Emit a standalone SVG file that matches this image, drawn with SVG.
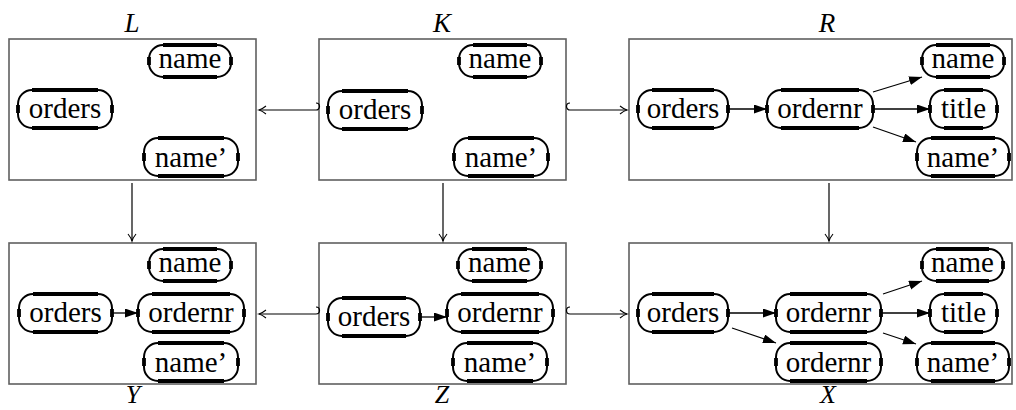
<svg xmlns="http://www.w3.org/2000/svg" width="1016" height="410" viewBox="0 0 1016 410">
  <style>
    .frame { fill: #ffffff; stroke: #606060; stroke-width: 1.6; }
    .pill rect { fill: #ffffff; stroke: #000000; stroke-width: 2; }
    .pill path { fill: none; stroke: #000000; stroke-width: 3.8; }
    .pill text { font-family: "Liberation Serif", "Times New Roman", serif; font-size: 29px; text-anchor: middle; fill: #000000; }
    .title { font-family: "Liberation Serif", "Times New Roman", serif; font-size: 27px; font-style: italic; text-anchor: middle; fill: #000000; }
    .title.low { font-size: 26px; }
    .edge { fill: none; stroke: #000000; stroke-width: 1.3; marker-end: url(#solid); }
    .morph { fill: none; stroke: #000000; stroke-width: 1.2; marker-end: url(#open); }
  </style>
  <defs>
    <marker id="solid" markerUnits="userSpaceOnUse" markerWidth="14" markerHeight="10" refX="13" refY="4.5" orient="auto">
      <path d="M0,0 L13,4.5 L0,9 z" fill="#000000"/>
    </marker>
    <marker id="open" markerUnits="userSpaceOnUse" markerWidth="12" markerHeight="12" refX="8" refY="6" orient="auto" overflow="visible">
      <path d="M1,2 Q5,5.2 8,6 Q5,6.8 1,10" fill="none" stroke="#000000" stroke-width="1.1"/>
    </marker>
  </defs>

  <!-- graph frames with their labels -->
  <g id="L">
    <rect class="frame" x="9" y="39" width="247" height="141"/>
    <text class="title" x="132" y="32">L</text>
    <g id="L-name" class="pill"><rect x="149" y="45" width="82" height="32" rx="14"/><path d="M163 45H217M163 77H217M149 57v8M231 57v8"/><text x="190" y="68">name</text></g>
    <g id="L-orders" class="pill"><rect x="18" y="90" width="94" height="38" rx="14"/><path d="M32 90H98M32 128H98M18 105v8M112 105v8"/><text x="65" y="118">orders</text></g>
    <g id="L-name2" class="pill"><rect x="144" y="138" width="94" height="38" rx="14"/><path d="M158 138H224M158 176H224M144 153v8M238 153v8"/><text x="191" y="167">name’</text></g>
  </g>

  <g id="K">
    <rect class="frame" x="319" y="39" width="247" height="141"/>
    <text class="title" x="442" y="32">K</text>
    <g id="K-name" class="pill"><rect x="459" y="45" width="82" height="32" rx="14"/><path d="M473 45H527M473 77H527M459 57v8M541 57v8"/><text x="500" y="68">name</text></g>
    <g id="K-orders" class="pill"><rect x="328" y="91" width="94" height="38" rx="14"/><path d="M342 91H408M342 129H408M328 106v8M422 106v8"/><text x="375" y="119">orders</text></g>
    <g id="K-name2" class="pill"><rect x="454" y="138" width="94" height="38" rx="14"/><path d="M468 138H534M468 176H534M454 153v8M548 153v8"/><text x="501" y="167">name’</text></g>
  </g>

  <g id="R">
    <rect class="frame" x="629" y="39" width="383" height="141"/>
    <text class="title" x="827" y="32">R</text>
    <g id="R-orders" class="pill"><rect x="638" y="90" width="90" height="38" rx="14"/><path d="M652 90H714M652 128H714M638 105v8M728 105v8"/><text x="683" y="118">orders</text></g>
    <g id="R-ordernr" class="pill"><rect x="767" y="90" width="106" height="38" rx="14"/><path d="M781 90H859M781 128H859M767 105v8M873 105v8"/><text x="820" y="118">ordernr</text></g>
    <g id="R-name" class="pill"><rect x="922" y="45" width="82" height="32" rx="14"/><path d="M936 45H990M936 77H990M922 57v8M1004 57v8"/><text x="963" y="68">name</text></g>
    <g id="R-title" class="pill"><rect x="930" y="90" width="67" height="38" rx="14"/><path d="M944 90H983M944 128H983M930 105v8M997 105v8"/><text x="963.5" y="118">title</text></g>
    <g id="R-name2" class="pill"><rect x="917" y="138" width="92" height="38" rx="14"/><path d="M931 138H995M931 176H995M917 153v8M1009 153v8"/><text x="963" y="167">name’</text></g>
  </g>

  <g id="Y">
    <rect class="frame" x="9" y="243" width="247" height="141"/>
    <text class="title low" x="133" y="403">Y</text>
    <g id="Y-name" class="pill"><rect x="149" y="249" width="82" height="32" rx="14"/><path d="M163 249H217M163 281H217M149 261v8M231 261v8"/><text x="190" y="272">name</text></g>
    <g id="Y-orders" class="pill"><rect x="19" y="294" width="93" height="38" rx="14"/><path d="M33 294H98M33 332H98M19 309v8M112 309v8"/><text x="65.5" y="322">orders</text></g>
    <g id="Y-ordernr" class="pill"><rect x="138" y="294" width="106" height="38" rx="14"/><path d="M152 294H230M152 332H230M138 309v8M244 309v8"/><text x="191" y="322">ordernr</text></g>
    <g id="Y-name2" class="pill"><rect x="144" y="343" width="94" height="38" rx="14"/><path d="M158 343H224M158 381H224M144 358v8M238 358v8"/><text x="191" y="372">name’</text></g>
  </g>

  <g id="Z">
    <rect class="frame" x="319" y="243" width="247" height="141"/>
    <text class="title low" x="442" y="403">Z</text>
    <g id="Z-name" class="pill"><rect x="458" y="249" width="83" height="32" rx="14"/><path d="M472 249H527M472 281H527M458 261v8M541 261v8"/><text x="499.5" y="272">name</text></g>
    <g id="Z-orders" class="pill"><rect x="328" y="298" width="92" height="38" rx="14"/><path d="M342 298H406M342 336H406M328 313v8M420 313v8"/><text x="374" y="326">orders</text></g>
    <g id="Z-ordernr" class="pill"><rect x="447" y="294" width="106" height="38" rx="14"/><path d="M461 294H539M461 332H539M447 309v8M553 309v8"/><text x="500" y="322">ordernr</text></g>
    <g id="Z-name2" class="pill"><rect x="453" y="343" width="94" height="38" rx="14"/><path d="M467 343H533M467 381H533M453 358v8M547 358v8"/><text x="500" y="372">name’</text></g>
  </g>

  <g id="X">
    <rect class="frame" x="629" y="243" width="383" height="141"/>
    <text class="title low" x="828" y="403">X</text>
    <g id="X-orders" class="pill"><rect x="638" y="294" width="90" height="38" rx="14"/><path d="M652 294H714M652 332H714M638 309v8M728 309v8"/><text x="683" y="322">orders</text></g>
    <g id="X-ordernr1" class="pill"><rect x="776" y="294" width="105" height="38" rx="14"/><path d="M790 294H867M790 332H867M776 309v8M881 309v8"/><text x="828.5" y="322">ordernr</text></g>
    <g id="X-ordernr2" class="pill"><rect x="776" y="343" width="105" height="38" rx="14"/><path d="M790 343H867M790 381H867M776 358v8M881 358v8"/><text x="828.5" y="372">ordernr</text></g>
    <g id="X-name" class="pill"><rect x="922" y="249" width="81" height="32" rx="14"/><path d="M936 249H989M936 281H989M922 261v8M1003 261v8"/><text x="962.5" y="272">name</text></g>
    <g id="X-title" class="pill"><rect x="930" y="294" width="67" height="38" rx="14"/><path d="M944 294H983M944 332H983M930 309v8M997 309v8"/><text x="963.5" y="322">title</text></g>
    <g id="X-name2" class="pill"><rect x="917" y="343" width="92" height="38" rx="14"/><path d="M931 343H995M931 381H995M917 358v8M1009 358v8"/><text x="963" y="372">name’</text></g>
  </g>

  <g id="connectors">
    <!-- edges inside the graphs -->
    <path class="edge" d="M728 109H767"/>
    <path class="edge" d="M873 92L922 77"/>
    <path class="edge" d="M873 109H930"/>
    <path class="edge" d="M873 127L916 142"/>
    <path class="edge" d="M112 313H138"/>
    <path class="edge" d="M420 317H447"/>
    <path class="edge" d="M728 313H776"/>
    <path class="edge" d="M732 328L776 343"/>
    <path class="edge" d="M883 294L922 281"/>
    <path class="edge" d="M881 313H930"/>
    <path class="edge" d="M883 333L916 344"/>
    <!-- morphisms between graphs (hooked inclusions and vertical maps) -->
    <path class="morph" d="M316 103A3.5 3.5 0 0 1 316 110H259"/>
    <path class="morph" d="M316 307A3.5 3.5 0 0 1 316 314H259"/>
    <path class="morph" d="M570 103A3.5 3.5 0 0 0 570 110H627"/>
    <path class="morph" d="M570 307A3.5 3.5 0 0 0 570 314H627"/>
    <path class="morph" d="M132 183V241"/>
    <path class="morph" d="M443 183V241"/>
    <path class="morph" d="M829 183V241"/>
  </g>
</svg>
